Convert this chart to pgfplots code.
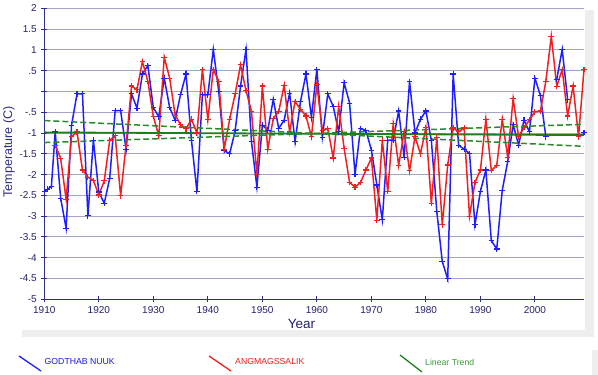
\documentclass[border=0pt]{standalone}
\usepackage{fontspec}
\setmainfont{Liberation Sans}
\usepackage{pgfplots}
\pgfplotsset{compat=1.18}
\definecolor{axnavy}{HTML}{2E2E82}
\definecolor{ticknavy}{HTML}{22226A}
\definecolor{gridc}{HTML}{A4A4C4}
\definecolor{bl}{HTML}{1E1EFF}
\definecolor{rd}{HTML}{F51E1E}
\definecolor{gdash}{HTML}{2A8A2A}
\definecolor{gsolid}{HTML}{1C7F1C}
\definecolor{gtext}{HTML}{3C9A3C}
\begin{document}
\begin{tikzpicture}[x=1pt,y=1pt]
\useasboundingbox (0,0) rectangle (598,375);
\fill[gray!13] (585,42) rectangle (594,365);
\fill[gray!13] (22,38) rectangle (594,45);
\fill[gray!13] (592,0) rectangle (598,25);
\begin{axis}[
  at={(44.3pt,75.7pt)}, anchor=south west,
  scale only axis, width=539.7pt, height=291pt,
  xmin=1910, xmax=2009, ymin=-5, ymax=2,
  clip=false,
  unbounded coords=jump,
  axis x line*=bottom, axis y line*=left,
  axis line style={axnavy, line width=1pt, -},
  xtick={1910,1920,...,2000},
  ytick={-5,-4.5,...,2},
  yticklabels={-5,-4.5,-4,-3.5,-3,-2.5,-2,-1.5,-1,-.5,,.5,1,1.5,2},
  xticklabel style={font=\fontsize{10}{12}\selectfont, text=ticknavy, yshift=-1pt},
  yticklabel style={font=\fontsize{10}{12}\selectfont, text=ticknavy, xshift=-1pt},
  /pgf/number format/assume math mode=true,
  /pgf/number format/1000 sep={},
  tick align=center, major tick length=6pt,
  tick style={axnavy, line width=0.9pt},
  ymajorgrids, grid style={gridc, line width=0.9pt},
]
\addplot[bl, line width=1.5pt, mark=+, mark size=2.8pt, mark options={line width=1.1pt}] coordinates {
(1910,-2.41)(1910.6,-2.35)(1911.3,-2.29)(1912,-0.97)(1913,-2.57)(1914,-3.29)(1915,-0.81)(1916,-0.06)(1917,-0.06)(1918,-2.99)(1919,-1.17)(1920,-2.42)(1921,-2.69)(1922,-2.09)(1923,-0.46)(1924,-0.46)(1925,-1.39)(1926,-0.06)(1927,-0.40)(1928,0.42)(1929,0.62)(1930,-0.39)(1931,-0.61)(1932,0.32)(1933,-0.39)(1934,-0.69)(1935,-0.07)(1936,0.42)(1937,-1.18)(1938,-2.41)(1939,-0.08)(1940,-0.08)(1941,1.01)(1942,0.0)(1943,-1.42)(1944,-1.5)(1945,-0.95)(1946,0.13)(1947,1.01)(1948,-1.21)(1949,-2.3)(1950,-0.81)(1951,-0.93)(1952,-0.19)(1953,-0.89)(1954,-0.69)(1955,-0.04)(1956,-1.21)(1957,-0.24)(1958,0.42)(1959,-0.62)(1960,0.53)(1961,-1.1)(1962,-0.06)(1963,-0.36)(1964,-0.97)(1965,0.21)(1966,-0.28)(1967,-2.0)(1968,-0.89)(1969,-0.94)(1970,-1.41)(1971,-2.25)(1972,-3.09)(1973,-1.17)(1974,-1.17)(1975,-0.47)(1976,-1.58)(1977,0.24)(1978,-1.0)(1979,-0.67)(1980,-0.47)(1981,-1.18)(1982,-2.89)(1983,-4.09)(1984,-4.51)(1985,0.42)(1986,-1.29)(1987,-1.39)(1988,-1.49)(1989,-3.21)(1990,-2.40)(1991,-1.89)(1992,-3.59)(1993,-3.79)(1994,-2.38)(1995,-1.69)(1996,-0.8)(1997,-1.29)(1998,-0.69)(1999,-0.97)(2000,0.32)(2001,-0.1)(2002,-1.09)(2003,nan)(2004,0.29)(2005,1.01)(2006,-0.2)(2007,nan)(2009,-0.99)
};
\addplot[rd, line width=1.5pt, mark=+, mark size=2.8pt, mark options={line width=1.1pt}] coordinates {
(1912,-1.29)(1913,-1.61)(1914,-2.59)(1915,-1.09)(1916,-0.97)(1917,-1.89)(1918,-2.06)(1919,-2.14)(1920,-2.49)(1921,-2.15)(1922,-1.17)(1923,-1.07)(1924,-2.51)(1925,-1.29)(1926,0.13)(1927,0.04)(1928,0.72)(1929,0.24)(1930,-0.6)(1931,-1.07)(1932,0.82)(1933,0.32)(1934,-0.57)(1935,-0.8)(1936,-0.9)(1937,-0.67)(1938,-1.0)(1939,0.53)(1940,-0.68)(1941,0.53)(1942,0.24)(1943,-1.39)(1944,-0.67)(1945,-0.06)(1946,0.64)(1947,0.02)(1948,-0.48)(1949,-2.0)(1950,0.13)(1951,-1.39)(1952,-0.65)(1953,-0.48)(1954,0.15)(1955,-0.97)(1956,-0.24)(1957,-0.43)(1958,-0.59)(1959,-1.09)(1960,0.16)(1961,-0.93)(1962,-0.89)(1963,-1.6)(1964,-0.36)(1965,-1.37)(1966,-2.19)(1967,-2.3)(1968,-2.19)(1969,-1.89)(1970,-1.6)(1971,-3.1)(1972,-1.17)(1973,-2.41)(1974,-0.78)(1975,-1.78)(1976,-0.97)(1977,-1.91)(1978,-1.09)(1979,-1.5)(1980,-0.87)(1981,-2.7)(1982,-1.1)(1983,-3.21)(1984,-1.77)(1985,-0.88)(1986,-0.97)(1987,-0.88)(1988,-3.0)(1989,-2.19)(1990,-1.89)(1991,-0.67)(1992,-1.9)(1993,-1.78)(1994,-0.67)(1995,-1.58)(1996,-0.17)(1997,-1.09)(1998,-0.87)(1999,-0.68)(2000,-0.49)(2001,-0.47)(2002,0.24)(2003,1.33)(2004,0.12)(2005,0.53)(2006,-0.59)(2007,0.13)(2008,-1.09)(2009,0.53)
};
\addplot[gsolid, line width=1.8pt] coordinates {(1910,-0.985)(2009,-1.05)};
\addplot[gdash, line width=1.5pt, dash pattern=on 6pt off 3pt] coordinates {(1910,-0.70)(2009,-1.32)};
\addplot[gdash, line width=1.5pt, dash pattern=on 6pt off 3pt] coordinates {(1910,-1.23)(2009,-0.79)};
\end{axis}
\node[rotate=90, text=axnavy, font=\fontsize{12.5}{14}\selectfont] at (9,223) {Temperature (C)};
\node[text=ticknavy, font=\fontsize{13.5}{15}\selectfont] at (301.5,51) {Year};
% legend
\draw[bl, line width=1.3pt] (19,19) -- (41,4);
\node[anchor=west, text=bl!85!black, font=\fontsize{8.7}{10}\selectfont, inner sep=0pt] at (44.5,13) {GODTHAB NUUK};
\draw[rd, line width=1.3pt] (209,19) -- (231,4);
\node[anchor=west, text=rd, font=\fontsize{8.7}{10}\selectfont, inner sep=0pt] at (235,13) {ANGMAGSSALIK};
\draw[gsolid, line width=1.3pt] (400,20) -- (422,3);
\node[anchor=west, text=gtext, font=\fontsize{8.7}{10}\selectfont, inner sep=0pt] at (425,13) {Linear Trend};
\end{tikzpicture}
\end{document}
